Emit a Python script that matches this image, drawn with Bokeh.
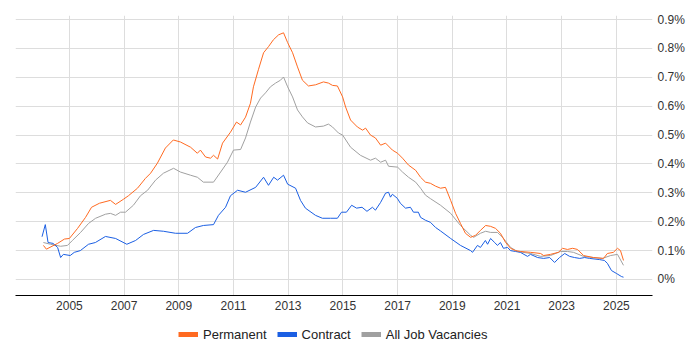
from bokeh.plotting import figure
from bokeh.models import Range1d, FixedTicker, Legend, LegendItem
from bokeh.layouts import column
from bokeh.embed import file_html
from bokeh.resources import INLINE

# ---- data (share of UK job vacancies, %) ----
perm_years = [2004.05, 2004.16, 2004.57, 2004.82, 2005.00, 2005.30, 2005.59, 2005.81, 2006.10, 2006.50,
              2006.69, 2006.98, 2007.16, 2007.49, 2007.78, 2007.97, 2008.22, 2008.51, 2008.80, 2009.06,
              2009.43, 2009.68, 2009.79, 2009.98, 2010.16, 2010.27, 2010.42, 2010.60, 2010.89, 2011.11,
              2011.26, 2011.44, 2011.62, 2011.73, 2011.91, 2012.10, 2012.28, 2012.46, 2012.65, 2012.83,
              2012.98, 2013.16, 2013.34, 2013.52, 2013.74, 2014.00, 2014.29, 2014.47, 2014.62, 2014.80,
              2014.99, 2015.10, 2015.28, 2015.53, 2015.72, 2015.83, 2016.01, 2016.19, 2016.38, 2016.56,
              2016.81, 2017.00, 2017.18, 2017.40, 2017.66, 2017.84, 2018.02, 2018.20, 2018.39, 2018.57,
              2018.75, 2018.94, 2019.12, 2019.30, 2019.48, 2019.67, 2019.85, 2020.03, 2020.22, 2020.40,
              2020.58, 2020.76, 2020.95, 2021.13, 2021.31, 2021.49, 2021.86, 2022.23, 2022.34, 2022.59,
              2022.88, 2023.03, 2023.21, 2023.40, 2023.58, 2023.80, 2024.16, 2024.53, 2024.67, 2024.89,
              2025.04, 2025.15, 2025.26]
perm_values = [0.118, 0.105, 0.125, 0.140, 0.142, 0.177, 0.215, 0.250, 0.264, 0.274,
               0.260, 0.278, 0.290, 0.316, 0.350, 0.368, 0.403, 0.455, 0.483, 0.476,
               0.458, 0.437, 0.448, 0.424, 0.420, 0.430, 0.417, 0.472, 0.510, 0.545,
               0.535, 0.562, 0.610, 0.667, 0.726, 0.785, 0.806, 0.830, 0.847, 0.854,
               0.820, 0.785, 0.736, 0.690, 0.670, 0.674, 0.684, 0.680, 0.672, 0.670,
               0.632, 0.597, 0.552, 0.528, 0.517, 0.524, 0.500, 0.490, 0.465, 0.472,
               0.448, 0.437, 0.420, 0.396, 0.378, 0.354, 0.337, 0.333, 0.323, 0.316,
               0.319, 0.274, 0.229, 0.194, 0.160, 0.146, 0.153, 0.170, 0.187, 0.184,
               0.177, 0.160, 0.128, 0.108, 0.100, 0.097, 0.094, 0.090, 0.083, 0.087,
               0.094, 0.108, 0.104, 0.108, 0.104, 0.083, 0.076, 0.073, 0.090, 0.094,
               0.108, 0.100, 0.066]

contract_years = [2004.00, 2004.12, 2004.22, 2004.40, 2004.57, 2004.68, 2004.78, 2005.03, 2005.18, 2005.40,
                  2005.70, 2005.95, 2006.32, 2006.69, 2007.10, 2007.42, 2007.71, 2008.08, 2008.44, 2008.88,
                  2009.32, 2009.61, 2009.90, 2010.27, 2010.45, 2010.71, 2010.89, 2011.15, 2011.44, 2011.81,
                  2012.10, 2012.28, 2012.47, 2012.61, 2012.83, 2012.98, 2013.27, 2013.45, 2013.63, 2014.00,
                  2014.25, 2014.55, 2014.80, 2014.95, 2015.13, 2015.32, 2015.50, 2015.70, 2015.88, 2016.08,
                  2016.19, 2016.38, 2016.56, 2016.67, 2016.74, 2016.81, 2016.99, 2017.10, 2017.29, 2017.47,
                  2017.58, 2017.76, 2017.84, 2018.02, 2018.20, 2018.39, 2018.57, 2018.94, 2019.30, 2019.67,
                  2019.74, 2019.92, 2020.03, 2020.21, 2020.29, 2020.40, 2020.55, 2020.65, 2020.76, 2020.87,
                  2021.02, 2021.13, 2021.31, 2021.49, 2021.75, 2021.86, 2022.12, 2022.34, 2022.56, 2022.74,
                  2022.92, 2023.11, 2023.29, 2023.47, 2023.66, 2023.84, 2024.02, 2024.38, 2024.56, 2024.67,
                  2024.82, 2025.00, 2025.19, 2025.26]
contract_values = [0.148, 0.190, 0.128, 0.125, 0.111, 0.076, 0.087, 0.083, 0.094, 0.100,
                   0.122, 0.128, 0.149, 0.142, 0.122, 0.135, 0.156, 0.170, 0.167, 0.160,
                   0.160, 0.180, 0.187, 0.190, 0.222, 0.250, 0.290, 0.309, 0.302, 0.319,
                   0.354, 0.326, 0.354, 0.344, 0.361, 0.330, 0.316, 0.274, 0.247, 0.222,
                   0.212, 0.212, 0.212, 0.233, 0.233, 0.257, 0.247, 0.250, 0.236, 0.250,
                   0.240, 0.267, 0.299, 0.302, 0.285, 0.295, 0.281, 0.264, 0.247, 0.250,
                   0.233, 0.233, 0.215, 0.205, 0.198, 0.180, 0.168, 0.142, 0.118, 0.100,
                   0.094, 0.118, 0.111, 0.135, 0.122, 0.142, 0.128, 0.118, 0.128, 0.108,
                   0.111, 0.100, 0.097, 0.094, 0.080, 0.087, 0.076, 0.073, 0.076, 0.059,
                   0.076, 0.090, 0.080, 0.076, 0.073, 0.076, 0.073, 0.069, 0.066, 0.056,
                   0.031, 0.021, 0.010, 0.008]

all_years = [2004.05, 2004.31, 2004.68, 2004.93, 2005.11, 2005.41, 2005.70, 2005.96, 2006.32, 2006.50,
             2006.69, 2006.87, 2007.05, 2007.34, 2007.60, 2007.86, 2008.15, 2008.44, 2008.81, 2009.06,
             2009.43, 2009.68, 2009.90, 2010.27, 2010.53, 2010.78, 2011.00, 2011.26, 2011.44, 2011.62,
             2011.81, 2011.99, 2012.17, 2012.35, 2012.54, 2012.72, 2012.83, 2012.98, 2013.16, 2013.34,
             2013.52, 2013.71, 2014.00, 2014.29, 2014.47, 2014.62, 2014.84, 2014.99, 2015.28, 2015.64,
             2016.01, 2016.19, 2016.38, 2016.56, 2016.67, 2017.00, 2017.18, 2017.40, 2017.66, 2017.84,
             2018.02, 2018.20, 2018.57, 2018.94, 2019.30, 2019.67, 2019.78, 2020.03, 2020.22, 2020.40,
             2020.65, 2020.84, 2021.13, 2021.38, 2021.86, 2022.23, 2022.59, 2022.96, 2023.21, 2023.43,
             2023.80, 2024.16, 2024.49, 2024.79, 2025.04, 2025.26]
all_values = [0.128, 0.122, 0.115, 0.118, 0.135, 0.163, 0.194, 0.212, 0.226, 0.229,
              0.222, 0.233, 0.233, 0.257, 0.290, 0.309, 0.344, 0.368, 0.385, 0.372,
              0.361, 0.354, 0.337, 0.337, 0.372, 0.406, 0.448, 0.450, 0.490, 0.545,
              0.597, 0.628, 0.646, 0.667, 0.680, 0.690, 0.701, 0.667, 0.632, 0.587,
              0.563, 0.542, 0.528, 0.531, 0.538, 0.528, 0.507, 0.500, 0.458, 0.430,
              0.413, 0.420, 0.406, 0.413, 0.392, 0.389, 0.372, 0.354, 0.337, 0.316,
              0.292, 0.280, 0.257, 0.229, 0.187, 0.153, 0.146, 0.160, 0.167, 0.163,
              0.163, 0.146, 0.111, 0.097, 0.090, 0.080, 0.083, 0.097, 0.097, 0.094,
              0.080, 0.076, 0.073, 0.083, 0.087, 0.049]

x_ticks = [2005, 2007, 2009, 2011, 2013, 2015, 2017, 2019, 2021, 2023, 2025]
x_tick_labels = ["2005", "2007", "2009", "2011", "2013", "2015", "2017", "2019", "2021", "2023", "2025"]
y_ticks = [0.0, 0.1, 0.2, 0.3, 0.4, 0.5, 0.6, 0.7, 0.8, 0.9]
y_tick_labels = ["0%", "0.1%", "0.2%", "0.3%", "0.4%", "0.5%", "0.6%", "0.7%", "0.8%", "0.9%"]

series_names = ["Permanent", "Contract", "All Job Vacancies"]
series_colors = ["#ff6a21", "#1b5fe3", "#a0a0a0"]

FONT = "Liberation Sans"

p = figure(width=700, height=318,
           x_range=Range1d(2003.03, 2026.32), y_range=Range1d(-0.0554, 0.9139),
           output_backend="svg", toolbar_location=None, y_axis_location="right",
           min_border_left=15, min_border_top=15, min_border_right=48, min_border_bottom=23)
p.outline_line_color = None
p.background_fill_color = "white"
p.border_fill_color = "white"

p.xaxis.ticker = FixedTicker(ticks=x_ticks)
p.xaxis.major_label_overrides = {t: l for t, l in zip(x_ticks, x_tick_labels)}
p.xaxis.axis_line_color = "black"
p.xaxis.axis_line_width = 1
p.xaxis.major_label_standoff = 5

p.yaxis.ticker = FixedTicker(ticks=y_ticks)
p.yaxis.major_label_overrides = {t: l for t, l in zip(y_ticks, y_tick_labels)}
p.yaxis.axis_line_color = None
p.yaxis.major_label_standoff = 5

for ax in (p.xaxis, p.yaxis):
    ax.major_tick_line_color = None
    ax.minor_tick_line_color = None
    ax.major_tick_out = 0
    ax.major_tick_in = 0
    ax.minor_tick_out = 0
    ax.minor_tick_in = 0
    ax.major_label_text_font = FONT
    ax.major_label_text_font_size = "12px"
    ax.major_label_text_color = "#333333"

p.grid.grid_line_color = "#dddddd"
p.grid.grid_line_width = 1

# lines (gray first, then contract, then permanent on top)
p.line(all_years, all_values, line_color=series_colors[2], line_width=1)
p.line(contract_years, contract_values, line_color=series_colors[1], line_width=1)
p.line(perm_years, perm_values, line_color=series_colors[0], line_width=1)

# legend strip below the chart
lg = figure(width=700, height=32, x_range=Range1d(0, 1), y_range=Range1d(0, 1),
            output_backend="svg", toolbar_location=None,
            x_axis_location=None, y_axis_location=None, min_border=0)
lg.outline_line_color = None
lg.grid.visible = False
lg.background_fill_color = "white"
lg.border_fill_color = "white"

items = []
for name, col in zip(series_names, series_colors):
    # swatch renderer kept outside the visible range; only its legend glyph shows
    r = lg.line([-5, -4], [-5, -4], line_color=col, line_width=5)
    items.append(LegendItem(label=name, renderers=[r]))

legend = Legend(items=items, orientation="horizontal", location=(163, 8),
                padding=0, margin=0, spacing=10, glyph_width=20, glyph_height=16,
                label_height=16, label_standoff=5,
                label_text_font=FONT, label_text_font_size="13px",
                label_text_color="#222222",
                border_line_color=None, background_fill_alpha=0)
lg.add_layout(legend, "center")

layout = column(p, lg, spacing=0)
open("out.html", "w").write(file_html(layout, INLINE))
